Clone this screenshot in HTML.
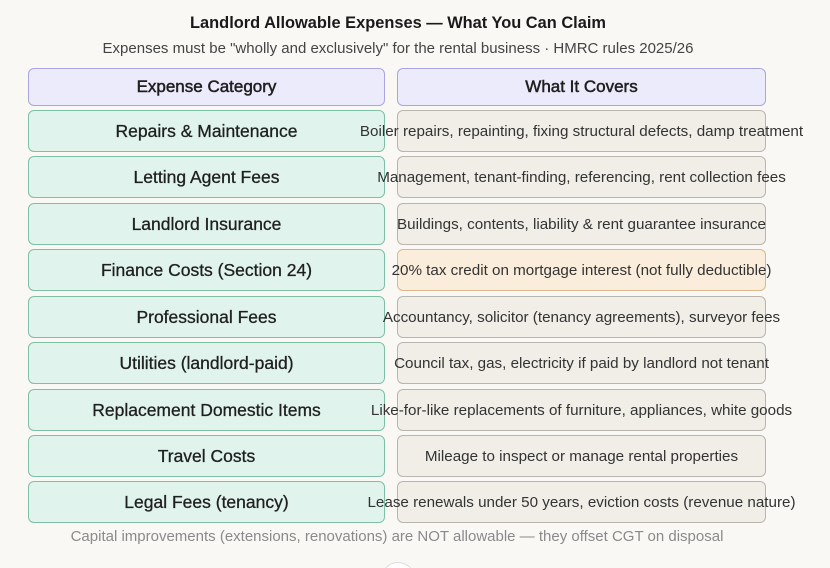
<!DOCTYPE html>
<html style="overflow:hidden;width:830px;height:568px"><head><meta charset="utf-8"><style>
body{margin:0;width:830px;height:568px;background:#f9f8f5;font-family:"Liberation Sans",sans-serif;position:relative;overflow:hidden;color:#1f1f1f}
.t{position:absolute;left:0;width:830px;text-align:center;white-space:nowrap}
.b{position:absolute;box-sizing:border-box;border-radius:6px;display:flex;align-items:center;justify-content:center;white-space:nowrap}
.l{left:28px;width:357px;background:#e0f3ec;border:1px solid #7fbfa6;font-size:17.5px;color:#1f1f1f;-webkit-text-stroke:0.3px #1f1f1f}
.r{left:397px;width:369px;background:#f1eee8;border:1px solid #b9b5ae;font-size:15.2px;color:#333}
.h{background:#ecebfc;border:1px solid #a9a5e0;font-size:17px;color:#1f1f1f;-webkit-text-stroke:0.5px #1f1f1f}
</style></head><body>
<div class="t" style="left:-17px;top:14px;font-size:16.4px;font-weight:bold;color:#1a1a1a">Landlord Allowable Expenses — What You Can Claim</div>
<div class="t" style="left:-17px;top:40px;font-size:15px;color:#444">Expenses must be "wholly and exclusively" for the rental business · HMRC rules 2025/26</div>
<div class="b h" style="left:28px;width:357px;top:68px;height:38px">Expense Category</div>
<div class="b h" style="left:397px;width:369px;top:68px;height:38px">What It Covers</div>

<div class="b l" style="top:110px;height:42px">Repairs &amp; Maintenance</div>
<div class="b r" style="top:110px;height:42px">Boiler repairs, repainting, fixing structural defects, damp treatment</div>
<div class="b l" style="top:156px;height:42px">Letting Agent Fees</div>
<div class="b r" style="top:156px;height:42px">Management, tenant-finding, referencing, rent collection fees</div>
<div class="b l" style="top:203px;height:42px">Landlord Insurance</div>
<div class="b r" style="top:203px;height:42px">Buildings, contents, liability &amp; rent guarantee insurance</div>
<div class="b l" style="top:249px;height:42px">Finance Costs (Section 24)</div>
<div class="b r" style="top:249px;height:42px;background:#fbeddb;border-color:#dcb88a">20% tax credit on mortgage interest (not fully deductible)</div>
<div class="b l" style="top:296px;height:42px">Professional Fees</div>
<div class="b r" style="top:296px;height:42px">Accountancy, solicitor (tenancy agreements), surveyor fees</div>
<div class="b l" style="top:342px;height:42px">Utilities (landlord-paid)</div>
<div class="b r" style="top:342px;height:42px">Council tax, gas, electricity if paid by landlord not tenant</div>
<div class="b l" style="top:389px;height:42px">Replacement Domestic Items</div>
<div class="b r" style="top:389px;height:42px">Like-for-like replacements of furniture, appliances, white goods</div>
<div class="b l" style="top:435px;height:42px">Travel Costs</div>
<div class="b r" style="top:435px;height:42px">Mileage to inspect or manage rental properties</div>
<div class="b l" style="top:481px;height:42px">Legal Fees (tenancy)</div>
<div class="b r" style="top:481px;height:42px">Lease renewals under 50 years, eviction costs (revenue nature)</div>

<div class="t" style="left:-18px;top:528px;font-size:15px;color:#8a8a8a">Capital improvements (extensions, renovations) are NOT allowable — they offset CGT on disposal</div>
<div style="position:absolute;left:381px;top:562px;width:32px;height:32px;border-radius:50%;background:#fff;border:1px solid #ddd"></div>
</body></html>
